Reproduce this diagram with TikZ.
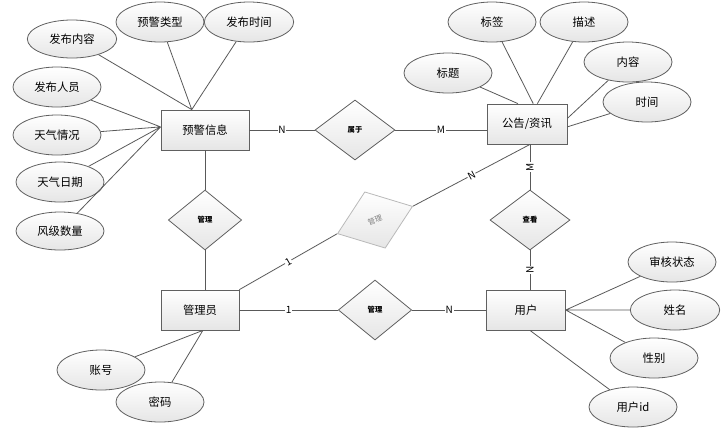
\documentclass[tikz,border=0pt]{standalone}
\usepackage{fontspec}
\setmainfont{Noto Sans CJK SC}
\usetikzlibrary{positioning,shapes.geometric,shadows}
\tikzset{
  base/.style={draw=gray!75!black, line width=0.6pt, top color=white, bottom color=gray!20, inner sep=0pt},
  entity/.style={base, rectangle, minimum width=60pt, minimum height=30pt, font=\fontsize{8.5}{10}\selectfont,
    drop shadow={shadow xshift=0.8pt, shadow yshift=-0.8pt, opacity=0.3}},
  attr/.style={base, ellipse, minimum width=66pt, minimum height=30pt, font=\fontsize{8.5}{10}\selectfont},
  rel/.style={base, diamond, minimum width=60pt, minimum height=45pt, font=\bfseries\fontsize{5.5}{6}\selectfont},
  link/.style={draw=gray!70!black, line width=0.6pt},
  card/.style={fill=white, inner sep=0.6pt, font=\fontsize{7.5}{8}\selectfont}
}

\begin{document}
\begin{tikzpicture}[x=0.75pt, y=-0.75pt]
\useasboundingbox (0,0) rectangle (723,437);

% entities
\node[entity, minimum width=66pt] (yj) at (205,130) {预警信息};
\node[entity] (gg) at (527,124) {公告/资讯};
\node[entity, minimum width=58.5pt] (gly) at (200,310) {管理员};
\node[entity, minimum width=59pt] (yh) at (526,310) {用户};

% relations
\node[rel] (sy) at (355,130) {属于};
\node[rel, minimum width=55pt] (gl1) at (205,220) {管理};
\node[rel] (ck) at (530,220) {查看};
\node[rel, minimum width=55pt] (gl3) at (375,310) {管理};
\node[rel, rotate=20, draw=gray!55, text=gray, font=\fontsize{5.5}{6}\selectfont] (gl2) at (375,220) {管理};

% attributes of 预警信息
\node[attr] (yjlx) at (160,22) {预警类型};
\node[attr, minimum width=67pt] (fbsj) at (249,22) {发布时间};
\node[attr, minimum width=67pt, minimum height=28.5pt] (fbnr) at (72,39) {发布内容};
\node[attr] (fbry) at (57,87) {发布人员};
\node[attr] (tqqk) at (57,135) {天气情况};
\node[attr] (tqrq) at (60,182) {天气日期};
\node[attr, minimum height=28.5pt] (fjsl) at (60,231) {风级数量};

% attributes of 公告/资讯
\node[attr] (bq) at (492,22) {标签};
\node[attr] (ms) at (584,22) {描述};
\node[attr] (bt) at (448,73) {标题};
\node[attr] (nr) at (628,62) {内容};
\node[attr] (sj) at (647,102) {时间};

% attributes of 用户 and 管理员
\node[attr] (shzt) at (672,262) {审核状态};
\node[attr, minimum width=67pt] (xm) at (675,310) {姓名};
\node[attr] (xb) at (654,358) {性别};
\node[attr] (yhid) at (633,407) {用户id};
\node[attr] (zh) at (101,370) {账号};
\node[attr] (mm) at (160,402) {密码};

% attribute lines
\draw[link] (fbnr) -- (yj.123) (yjlx) -- (yj.123) (fbsj) -- (yj.123);
\draw[link] (fbry) -- (yj.176) (tqqk) -- (yj.176) (tqrq) -- (yj.176) (fjsl) -- (yj.176);
\draw[link] (bt) -- (gg.114) (bq) -- (gg.73) (ms) -- (gg.63);
\draw[link] (nr) -- (gg.8) (sj) -- (gg.356);
\draw[link] (shzt) -- (yh.east) (xm) -- (yh.east) (xb) -- (yh.east) (yhid) -- (yh.281);
\draw[link] (zh) -- (gly.278) (mm) -- (gly.278);

% relation lines
\draw[link] (yj) -- (gl1) -- (gl1 |- gly.north);
\draw[link] (yj.east |- sy) -- node[card] {N} (sy);
\draw[link] (sy) -- node[card] {M} (sy -| gg.west);
\draw[link] (ck |- gg.south) -- node[card, rotate=90] {M} (ck);
\draw[link] (ck) -- node[card, rotate=90] {N} (ck |- yh.north);
\draw[link] (gly) -- node[card] {1} (gl3);
\draw[link] (gl3) -- node[card] {N} (yh);
\draw[link] (ck |- gg.south) -- node[card, sloped] {N} (gl2.east);
\draw[link] (gl2.west) -- node[card, sloped] {1} (gly.north east);
\end{tikzpicture}
\end{document}
